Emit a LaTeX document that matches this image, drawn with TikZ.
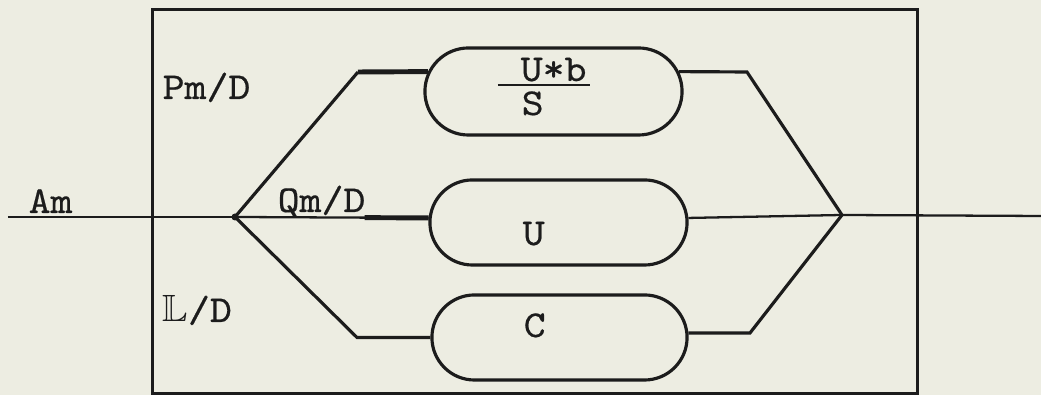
\documentclass[tikz,border=0pt]{standalone}
\usepackage{fontspec}
\usepackage{amssymb}
\setmonofont[FakeStretch=1.1,FakeBold=0.5]{Latin Modern Mono}
\usetikzlibrary{shapes.misc,calc}
\definecolor{paper}{RGB}{237,237,226}
\definecolor{ink}{RGB}{28,28,28}
\begin{document}
\begin{tikzpicture}[x=0.01cm,y=-0.01cm,
  lbl/.style={font=\fontsize{10.8}{12}\ttfamily, text=ink, inner sep=0pt},
  pill/.style={draw=ink, line width=0.9pt, rounded rectangle, minimum height=0.86cm, inner sep=0pt},
  wire/.style={draw=ink, line width=0.9pt},
  mainwire/.style={draw=ink, line width=0.65pt},
  stub/.style={draw=ink, line width=1.4pt}]
\fill[paper] (0,0) rectangle (1041,395);
\useasboundingbox (0,0) rectangle (1041,395);

% frame
\node[draw=ink, line width=0.9pt, minimum width=7.64cm, minimum height=3.83cm, inner sep=0pt] (frame) at (535,201.5) {};

% boxes
\node[pill, minimum width=2.57cm, minimum height=0.87cm] (top) at (553.5,91.5) {};
\node[pill, minimum width=2.57cm, minimum height=0.85cm] (mid) at (558.5,222.5) {};
\node[pill, minimum width=2.55cm, minimum height=0.85cm] (bot) at (559.5,337.5) {};

% coordinates
\coordinate (in) at (8,217);
\coordinate (j1) at (235,217);
\coordinate (ka) at (358,72);
\coordinate (kc) at (357,337.5);
\coordinate (kb) at (747,72);
\coordinate (kd) at (750,333);
\coordinate (j2) at (842,215);
\coordinate (out) at (1041,216);

% wires
\draw[mainwire] (in) -- (j1);
\draw[wire] (j1) -- (ka);
\draw[stub] (ka) -- (top.171);
\draw[mainwire] (j1) -- (mid.178);
\draw[stub] ($(j1)!0.67!(mid.178)$) -- (mid.178);
\draw[wire] (j1) -- (kc) -- (bot.west);
\draw[wire] (top.9) -- (kb) -- (j2);
\draw[mainwire] (mid.2) -- (j2);
\draw[wire] (bot.2) -- (kd) -- (j2);
\draw[mainwire] (j2) -- (out);
\fill[ink] (j1) circle (3.5);

% labels
\node[lbl, anchor=base west] (am) at (28,213) {Am};
\node[lbl, anchor=base west] (pm) at (162,99) {Pm/D};
\node[lbl, anchor=base west] (qm) at (277,212) {Qm/D};
\node[lbl, anchor=base west] (ld) at (162,322) {$\mathbb{L}$/D};
\node[lbl, anchor=base west] (ub) at (520,81) {U*b};
\node[lbl, anchor=base west] (s) at (521,115) {S};
\draw[draw=ink, line width=0.7pt] ($(ub.base west)+(-22,4)$) -- ($(ub.base east)+(3,4)$);
\node[lbl, anchor=base west] (u) at (522,245) {U};
\node[lbl, anchor=base west] (c) at (523,337) {C};
\end{tikzpicture}
\end{document}
